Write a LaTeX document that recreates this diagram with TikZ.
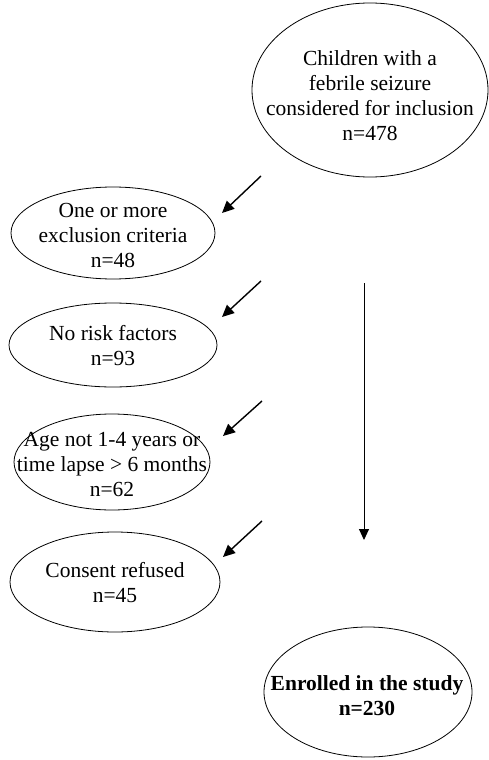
\documentclass[tikz,border=0pt]{standalone}
\usepackage{fontspec}
\setmainfont{Liberation Serif}
\usetikzlibrary{arrows.meta, positioning, shapes.geometric}

\begin{document}
\begin{tikzpicture}[x=1pt, y=-1pt, font=\fontsize{21.5}{25}\selectfont]
      % Styles
      \tikzset{oval/.style={draw, ellipse, line width=0.8pt, inner sep=0pt}}
      \tikzset{oval_text/.style={align=center, inner sep=0pt}}
      \tikzset{excl_arrow/.style={-{Triangle[length=12pt, width=11pt]}, line width=1.4pt}}
      \tikzset{main_arrow/.style={-{Triangle[length=11pt, width=10pt]}, line width=0.9pt}}

      \useasboundingbox (0,0) rectangle (489,760);

      % --- Start: all children at the top right ---
      \node[oval, minimum width=236pt, minimum height=174pt] (children) at (370,90) {};
      \node[oval_text] (children_txt) at (370,96) {Children with a\\febrile seizure\\considered for inclusion\\n=478};

      % --- Excluded groups on the left ---
      \node[oval, minimum width=204pt, minimum height=92pt] (criteria) at (113,233) {};
      \node[oval_text] (criteria_txt) at (113,235) {One or more\\exclusion criteria\\n=48};

      \node[oval, minimum width=208pt, minimum height=84pt] (risk) at (113,345) {};
      \node[oval_text] (risk_txt) at (113,346) {No risk factors\\n=93};

      \node[oval, minimum width=196pt, minimum height=96pt] (age) at (112,462) {};
      \node[oval_text] (age_txt) at (112,465) {Age not 1-4 years or\\time lapse > 6 months\\n=62};

      \node[oval, minimum width=210pt, minimum height=100pt] (consent) at (115,582) {};
      \node[oval_text] (consent_txt) at (115,583) {Consent refused\\n=45};

      % --- Result at the bottom right ---
      \node[oval, minimum width=208pt, minimum height=130pt] (enrolled) at (368,692) {};
      \node[oval_text] (enrolled_txt) at (367,696) {\textbf{Enrolled in the study}\\\textbf{n=230}};

      % --- Arrows (free ends) ---
      \coordinate (a1s) at (261,176); \coordinate (a1e) at (222,213);
      \coordinate (a2s) at (261,281); \coordinate (a2e) at (222,317);
      \coordinate (a3s) at (262,401); \coordinate (a3e) at (223,436);
      \coordinate (a4s) at (262,521); \coordinate (a4e) at (223,557);
      \coordinate (flow_top) at (364,283); \coordinate (flow_bot) at (364,540);

      \draw[excl_arrow] (a1s) -- (a1e);
      \draw[excl_arrow] (a2s) -- (a2e);
      \draw[excl_arrow] (a3s) -- (a3e);
      \draw[excl_arrow] (a4s) -- (a4e);
      \draw[main_arrow] (flow_top) -- (flow_bot);

    \end{tikzpicture}
\end{document}
